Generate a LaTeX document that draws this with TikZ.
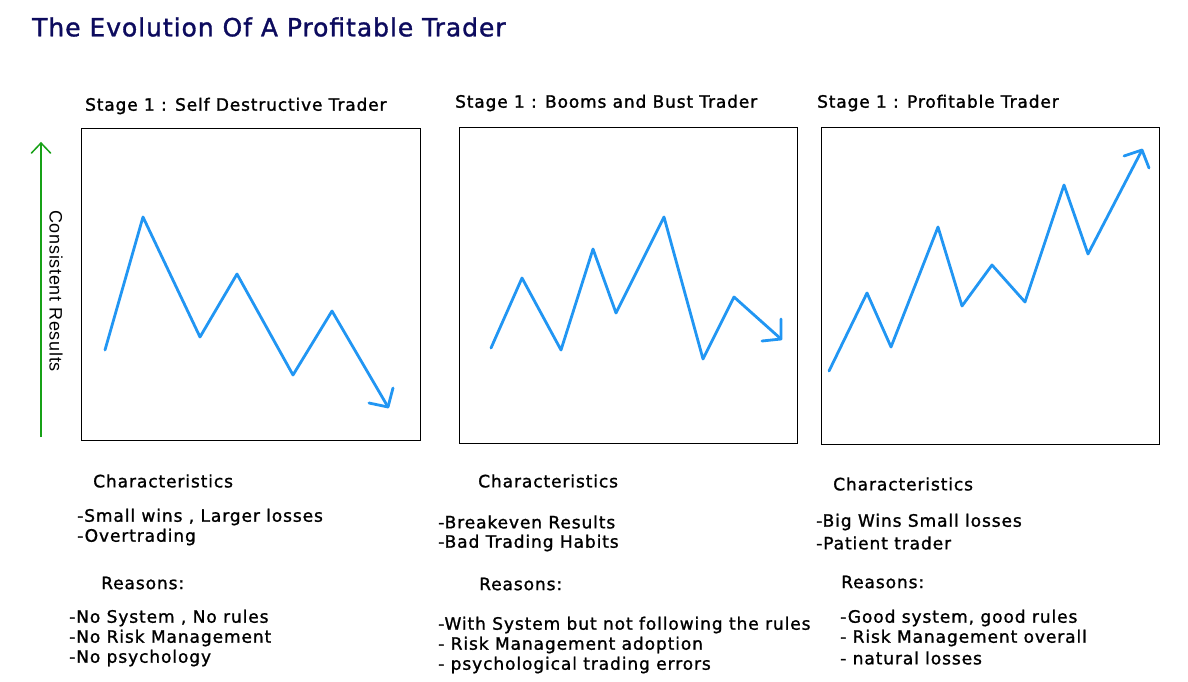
\documentclass[tikz,border=0pt]{standalone}
\usepackage{fontspec}
\setmainfont{DejaVu Sans}[LetterSpace=5,FakeBold=1.2]
\newfontfamily\headfont{DejaVu Sans}[LetterSpace=5,FakeBold=1.5]
\newfontfamily\titlefont{DejaVu Sans}[LetterSpace=3.8,FakeBold=1.3]
\newfontfamily\axisfont{Liberation Sans}[LetterSpace=4]
\definecolor{titleblue}{HTML}{0D0B5E}
\definecolor{lineblue}{HTML}{2196F3}
\definecolor{axisgreen}{HTML}{17A117}
\begin{document}
\begin{tikzpicture}[x=1pt,y=-1pt,
  chart/.style={draw=black,line width=1pt},
  trend/.style={draw=lineblue,line width=2.8pt,line join=round,line cap=round},
  txt/.style={anchor=west,inner sep=0pt,font=\fontsize{17.1}{20}\selectfont},
  head/.style={anchor=west,inner sep=0pt,font=\headfont\fontsize{17}{20}\selectfont},
]
\useasboundingbox[fill=white] (0,0) rectangle (1188,681);
% title
\node[anchor=west,inner sep=0pt,text=titleblue,font=\titlefont\fontsize{25}{30}\selectfont] (title) at (32,27) {The Evolution Of A Profitable Trader};
% axis
\coordinate (ax0) at (41,437);
\coordinate (ax1) at (41,143);
\draw[axisgreen,line width=1.5pt] (ax0) -- (ax1);
\draw[axisgreen,line width=1.5pt,line cap=round,line join=miter] (31.5,153) -- (ax1) -- (50.5,153);
\node[rotate=-90,inner sep=0pt,font=\axisfont\fontsize{18}{20}\selectfont] (axl) at (56,291) {Consistent Results};
% boxes
\node[chart,minimum width=339pt,minimum height=312pt,inner sep=0pt,anchor=north west] (b1) at (81,128) {};
\node[chart,minimum width=338pt,minimum height=316pt,inner sep=0pt,anchor=north west] (b2) at (459,127) {};
\node[chart,minimum width=338pt,minimum height=317pt,inner sep=0pt,anchor=north west] (b3) at (821,127) {};
% headers
\node[head] (h1) at (85,106) {Stage 1 : Self Destructive Trader};
\node[head] (h2) at (455,103) {Stage 1 : Booms and Bust Trader};
\node[head] (h3) at (817,103) {Stage 1 : Profitable Trader};
% trend lines
\draw[trend] (105,350) -- (143,217) -- (200,337) -- (237,274) -- (293,375) -- (332,311) -- (388,407);
\draw[trend] (369,403) -- (388,407) -- (393,388);
\draw[trend] (491,348) -- (522,278) -- (561,350) -- (593,249) -- (616,313) -- (664,217) -- (703,359) -- (734,297) -- (781,339);
\draw[trend] (762,341) -- (781,339) -- (781,319);
\draw[trend] (829,371) -- (867,293) -- (891,347) -- (938,227) -- (962,306) -- (992,265) -- (1025,302) -- (1064,185) -- (1088,254) -- (1142,150);
\draw[trend] (1124,156) -- (1142,150) -- (1149,168);
% column 1
\node[txt] (c1) at (93,481) {Characteristics};
\node[txt] (c1a) at (77,517) {-Small wins , Larger losses};
\node[txt] (c1b) at (77,537) {-Overtrading};
\node[txt] (r1) at (101,583) {Reasons:};
\node[txt] (r1a) at (69,618) {-No System , No rules};
\node[txt] (r1b) at (69,638) {-No Risk Management};
\node[txt] (r1c) at (69,658) {-No psychology};
% column 2
\node[txt] (c2) at (478,481) {Characteristics};
\node[txt] (c2a) at (438,522) {-Breakeven Results};
\node[txt] (c2b) at (438,543) {-Bad Trading Habits};
\node[txt] (r2) at (479,584) {Reasons:};
\node[txt] (r2a) at (438,625) {-With System but not following the rules};
\node[txt] (r2b) at (438,645) {- Risk Management adoption};
\node[txt] (r2c) at (438,665) {- psychological trading errors};
% column 3
\node[txt] (c3) at (833,484) {Characteristics};
\node[txt] (c3a) at (816,522) {-Big Wins Small losses};
\node[txt] (c3b) at (816,543) {-Patient trader};
\node[txt] (r3) at (841,582) {Reasons:};
\node[txt] (r3a) at (840,618) {-Good system, good rules};
\node[txt] (r3b) at (840,638) {- Risk Management overall};
\node[txt] (r3c) at (840,658) {- natural losses};
\end{tikzpicture}
\end{document}
